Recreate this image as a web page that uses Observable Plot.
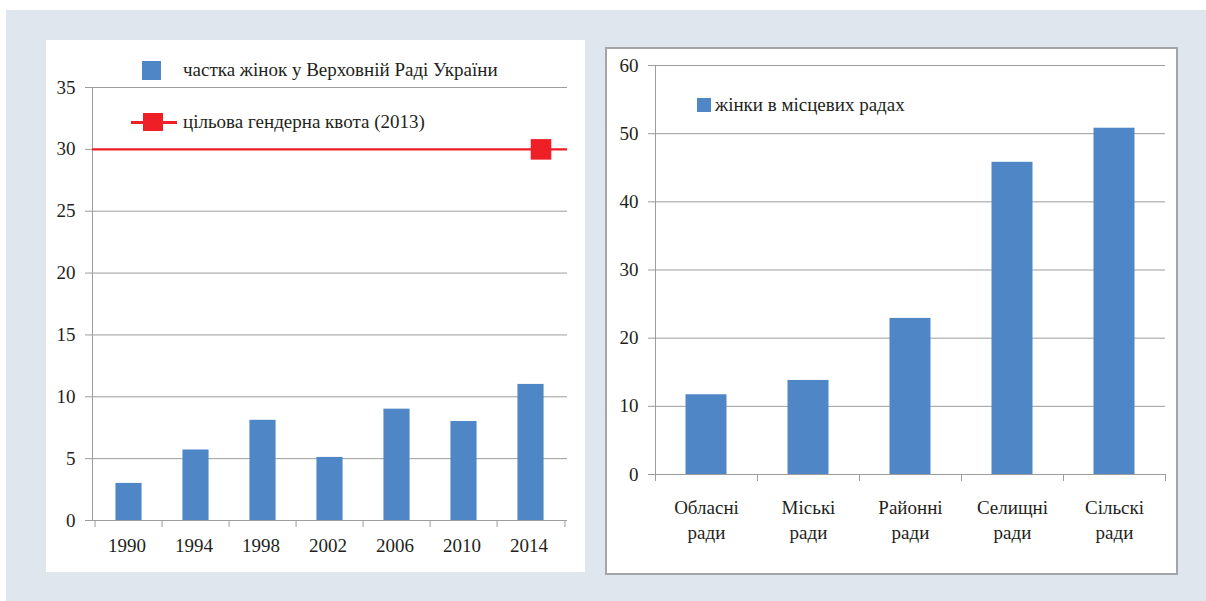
<!DOCTYPE html>
<html>
<head>
<meta charset="utf-8">
<script src="https://cdn.jsdelivr.net/npm/d3@7"></script>
<script src="https://cdn.jsdelivr.net/npm/@observablehq/plot@0.6"></script>
<style>
  html, body { margin: 0; padding: 0; background: #fff; width: 1206px; height: 601px; overflow: hidden; }
  #bg { position: absolute; left: 6px; top: 10px; width: 1200px; height: 591px; background: #dfe6ee; }
  .panel { position: absolute; background: #fff; box-sizing: border-box; }
  #left { left: 46px; top: 40px; width: 539px; height: 532px; }
  #right { left: 605px; top: 47px; width: 573px; height: 528px; border: 2px solid #a3a5a8; }
  .legend { position: absolute; font-family: 'Liberation Serif', serif; font-size: 19px; color: #231f20; display: flex; align-items: center; white-space: nowrap; }
  .sw { display: inline-block; }
  svg { position: absolute; left: 0; top: 0; }
  svg text { font-family: 'Liberation Serif', serif; font-variant-numeric: normal; }
</style>
</head>
<body>
<div id="bg"></div>
<div class="panel" id="left"></div>
<div class="panel" id="right"></div>
<script>
// ---- data ----
const years = ["1990", "1994", "1998", "2002", "2006", "2010", "2014"];
const shareRada = [3.0, 5.7, 8.1, 5.1, 9.0, 8.0, 11.0];
const quotaYear = "2014";
const quotaValue = 30;
const leftTicks = [0, 5, 10, 15, 20, 25, 30, 35];
const leftLegend = ["частка жінок у Верховній Раді України", "цільова гендерна квота (2013)"];

const councils = ["Обласні ради", "Міські ради", "Районні ради", "Селищні ради", "Сільскі ради"];
const womenLocal = [11.7, 13.8, 22.9, 45.8, 50.8];
const rightTicks = [0, 10, 20, 30, 40, 50, 60];
const rightLegend = ["жінки в місцевих радах"];

// ---- styles ----
const BLUE = "#4f87c6";
const RED = "#ee1f26";
const GRID = "#9c9c9c";
const INK = "#231f20";
const FONT = "'Liberation Serif', serif";
const baseStyle = {fontFamily: FONT, fontSize: "19px", color: INK, background: "transparent", overflow: "visible"};

// ---- left chart ----
const L = {w: 539, h: 532, ml: 46, mr: 18, mt: 47, mb: 52};
const lStep = (L.w - L.ml - L.mr) / years.length;
const leftData = years.map((y, i) => ({year: y, value: shareRada[i]}));
const leftPlot = Plot.plot({
  width: L.w, height: L.h,
  marginLeft: L.ml, marginRight: L.mr, marginTop: L.mt, marginBottom: L.mb,
  style: baseStyle,
  x: {type: "band", domain: years, padding: 0},
  y: {domain: [0, 35]},
  marks: [
    Plot.gridY(leftTicks, {stroke: GRID, strokeOpacity: 1}),
    Plot.frame({anchor: "left", stroke: GRID}),
    Plot.barY(leftData, {x: "year", y: "value", fill: BLUE, insetLeft: (lStep - 27) / 2, insetRight: (lStep - 27) / 2}),
    Plot.ruleY([quotaValue], {stroke: RED, strokeWidth: 2.3}),
    Plot.dot([{year: quotaYear, value: quotaValue}], {x: "year", y: "value", symbol: "square", r: 11.6, fill: RED, stroke: null, dx: 10}),
    Plot.axisY(leftTicks, {tickSize: 7, tickPadding: 10, stroke: GRID, fill: INK, label: null, fontFamily: FONT}),
    Plot.axisX({tickSize: 0, tickPadding: 18, fill: INK, label: null, dx: -2, fontFamily: FONT}),
    Plot.axisX(years, {tickSize: 7, tickFormat: () => "", stroke: GRID, dx: -lStep / 2, label: null}),
    Plot.axisX([years[years.length - 1]], {tickSize: 7, tickFormat: () => "", stroke: GRID, dx: lStep / 2, label: null})
  ]
});
document.getElementById("left").appendChild(leftPlot);

// legends
function legendItem(parent, left, top, swatchHtml, text) {
  const d = document.createElement("div");
  d.className = "legend";
  d.style.left = left + "px";
  d.style.top = top + "px";
  d.innerHTML = swatchHtml + `<span>${text}</span>`;
  parent.appendChild(d);
}
const leftEl = document.getElementById("left");
legendItem(leftEl, 96, 19,
  `<span class="sw" style="width:19px;height:19px;background:${BLUE};margin-right:22px"></span>`, leftLegend[0]);
legendItem(leftEl, 85, 71,
  `<span class="sw" style="position:relative;width:46px;height:22px;margin-right:6px">
     <span style="position:absolute;left:0;top:10px;width:46px;height:2.5px;background:${RED}"></span>
     <span style="position:absolute;left:12px;top:2px;width:20px;height:18px;background:${RED}"></span>
   </span>`, leftLegend[1]);

// ---- right chart ----
const R = {w: 569, h: 524, ml: 48, mr: 11, mt: 16, mb: 99};
const rStep = (R.w - R.ml - R.mr) / councils.length;
const rightData = councils.map((c, i) => ({council: c, value: womenLocal[i]}));
const rightPlot = Plot.plot({
  width: R.w, height: R.h,
  marginLeft: R.ml, marginRight: R.mr, marginTop: R.mt, marginBottom: R.mb,
  style: baseStyle,
  x: {type: "band", domain: councils, padding: 0},
  y: {domain: [0, 60]},
  marks: [
    Plot.gridY(rightTicks, {stroke: GRID, strokeOpacity: 1}),
    Plot.frame({anchor: "left", stroke: GRID}),
    Plot.barY(rightData, {x: "council", y: "value", fill: BLUE, insetLeft: (rStep - 41) / 2, insetRight: (rStep - 41) / 2}),
    Plot.axisY(rightTicks, {tickSize: 7, tickPadding: 10, stroke: GRID, fill: INK, label: null, fontFamily: FONT}),
    Plot.axisX({tickSize: 0, tickPadding: 22, fill: INK, label: null, lineHeight: 1.3, fontFamily: FONT, tickFormat: d => d.replace(" ", "\n")}),
    Plot.axisX(councils, {tickSize: 7, tickFormat: () => "", stroke: GRID, dx: -rStep / 2, label: null}),
    Plot.axisX([councils[councils.length - 1]], {tickSize: 7, tickFormat: () => "", stroke: GRID, dx: rStep / 2, label: null})
  ]
});
document.getElementById("right").appendChild(rightPlot);

const rightEl = document.getElementById("right");
legendItem(rightEl, 90, 45,
  `<span class="sw" style="width:14px;height:14px;background:${BLUE};margin-right:4px"></span>`, rightLegend[0]);
</script>
</body>
</html>
